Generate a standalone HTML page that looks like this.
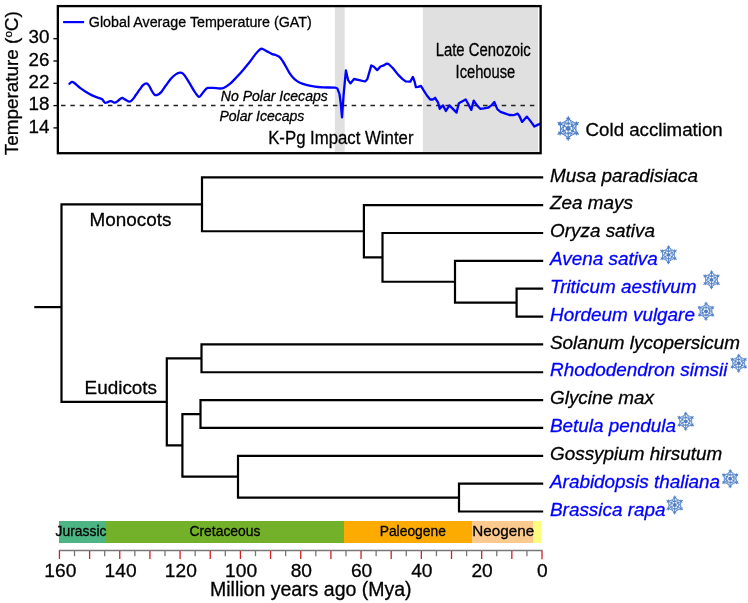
<!DOCTYPE html>
<html><head><meta charset="utf-8"><style>
html,body{margin:0;padding:0;background:#fff;width:748px;height:603px;overflow:hidden}
svg{display:block;will-change:transform}
text{font-family:"Liberation Sans", sans-serif;fill:#000;stroke:#000;stroke-width:0.3px}
</style></head><body>
<svg width="748" height="603" viewBox="0 0 748 603">
<defs><symbol id="sf" viewBox="-12 -12.5 24 25"><g stroke="#4a7cc4" fill="none" stroke-linecap="round" stroke-linejoin="round"><path d="M0.00 -3.00 L0.00 -11.40 M0.00 -9.00 l-1.56 -0.90 M0.00 -9.00 l1.56 -0.90 M-2.60 -1.50 L-9.87 -5.70 M-7.79 -4.50 l-1.56 0.90 M-7.79 -4.50 l0.00 -1.80 M-2.60 1.50 L-9.87 5.70 M-7.79 4.50 l-0.00 1.80 M-7.79 4.50 l-1.56 -0.90 M-0.00 3.00 L-0.00 11.40 M-0.00 9.00 l1.56 0.90 M-0.00 9.00 l-1.56 0.90 M2.60 1.50 L9.87 5.70 M7.79 4.50 l1.56 -0.90 M7.79 4.50 l-0.00 1.80 M2.60 -1.50 L9.87 -5.70 M7.79 -4.50 l0.00 -1.80 M7.79 -4.50 l1.56 0.90" stroke-width="1.05"/><polygon points="0.00 -10.40 -9.01 5.20 9.01 5.20" stroke-width="0.8"/><polygon points="-0.00 10.40 9.01 -5.20 -9.01 -5.20" stroke-width="0.8"/><polygon points="0.00 -8.60 -7.45 -4.30 -7.45 4.30 -0.00 8.60 7.45 4.30 7.45 -4.30" stroke-width="0.9"/><circle r="4.6" stroke-width="1.3" stroke-dasharray="0.85 1.56"/></g><circle r="2.4" fill="#4a7cc4"/></symbol></defs>
<rect x="334.9" y="7.2" width="9.8" height="144.6" fill="#e0e0e0"/>
<rect x="422.9" y="7.2" width="115.2" height="144.6" fill="#e0e0e0"/>
<line x1="61" y1="105.5" x2="539" y2="105.5" stroke="#222" stroke-width="1.6" stroke-dasharray="4.5 4.877"/>
<path d="M69.5 83.7 C69.9 83.4 71.2 81.9 72.0 81.8 C72.8 81.7 73.1 82.0 74.4 83.0 C75.7 84.0 78.1 86.3 80.0 87.8 C81.9 89.3 83.7 90.5 85.7 91.8 C87.7 93.1 90.1 94.4 92.1 95.4 C94.1 96.4 96.1 97.0 97.7 97.6 C99.3 98.2 100.8 98.6 101.7 99.1 C102.6 99.6 102.8 100.1 103.3 100.7 C103.8 101.3 104.2 102.4 104.9 102.7 C105.6 103.0 106.4 102.6 107.3 102.3 C108.2 102.0 109.3 101.2 110.1 101.1 C110.9 101.0 111.3 101.2 112.1 101.5 C112.9 101.8 114.0 102.8 114.9 102.7 C115.8 102.6 116.7 101.8 117.7 101.1 C118.7 100.4 120.1 98.9 120.9 98.4 C121.7 97.9 121.7 97.7 122.4 97.9 C123.1 98.1 124.1 99.0 125.3 99.6 C126.5 100.2 128.3 101.8 129.6 101.7 C130.8 101.7 131.7 100.5 132.8 99.3 C133.9 98.1 134.8 96.4 136.0 94.8 C137.2 93.2 138.6 91.0 139.8 89.4 C141.0 87.8 141.9 86.2 143.0 85.2 C144.1 84.2 145.2 83.4 146.2 83.4 C147.2 83.4 148.0 84.2 148.9 85.4 C149.8 86.6 150.7 89.0 151.6 90.5 C152.5 92.0 153.3 93.5 154.2 94.3 C155.1 95.1 155.7 95.5 156.9 95.1 C158.1 94.7 159.7 93.7 161.2 92.1 C162.7 90.5 164.4 87.5 166.0 85.3 C167.6 83.1 169.3 80.6 170.9 78.8 C172.5 77.0 174.2 75.4 175.7 74.4 C177.2 73.4 178.9 72.8 180.1 72.7 C181.3 72.6 181.9 72.8 182.9 73.6 C183.9 74.4 184.9 75.8 186.1 77.6 C187.3 79.3 188.6 81.7 190.1 84.1 C191.6 86.5 193.4 90.0 194.9 92.1 C196.4 94.2 197.7 96.6 198.9 96.9 C200.1 97.2 200.9 95.0 202.1 93.7 C203.3 92.4 205.1 89.9 206.1 88.9 C207.1 87.9 207.1 88.1 208.3 87.9 C209.5 87.7 211.4 87.8 213.3 87.9 C215.2 88.0 218.1 88.5 219.9 88.5 C221.7 88.5 222.4 88.5 224.1 87.7 C225.8 86.9 227.8 85.6 229.9 83.9 C232.0 82.2 234.3 79.6 236.5 77.3 C238.7 75.0 240.9 72.5 243.1 69.9 C245.3 67.4 247.6 64.6 249.7 62.0 C251.8 59.4 253.8 56.2 255.5 54.1 C257.2 52.0 258.6 50.5 259.7 49.6 C260.8 48.7 261.2 48.5 262.4 48.8 C263.6 49.1 265.6 50.5 267.1 51.4 C268.7 52.2 270.2 53.2 271.7 53.9 C273.2 54.5 274.9 54.8 276.2 55.3 C277.5 55.8 278.3 55.9 279.4 56.9 C280.5 57.9 281.5 59.3 282.6 61.0 C283.8 62.7 285.1 65.2 286.3 67.3 C287.5 69.4 288.5 71.7 289.9 73.7 C291.3 75.7 292.8 77.7 294.5 79.2 C296.2 80.7 297.8 81.8 299.9 82.8 C302.0 83.8 304.7 84.5 307.2 85.1 C309.7 85.7 312.5 86.2 315.0 86.6 C317.5 87.0 319.1 87.1 322.4 87.3 C325.7 87.5 332.4 87.5 334.9 87.7 C337.4 87.9 337.0 88.5 337.4 88.7 L339.5 94.1 L340.7 103.2 L342.0 117.3 L343.6 94.9 L345.9 70.5 L348.1 80.1 L350.4 83.4 L354.0 79.0 L359.2 80.1 L365.1 81.5 L367.3 79.3 L371.3 65.4 L373.9 66.8 L377.2 70.1 L380.5 66.5 L383.1 65.7 L386.4 63.7 L388.6 64.0 L393.0 68.3 L398.0 74.6 L402.3 78.9 L405.6 81.4 L410.3 81.6 L412.9 76.9 L414.6 81.6 L415.9 87.2 L418.2 86.9 L420.9 85.9 L423.5 90.2 L426.9 95.5 L430.2 99.5 L432.8 99.5 L435.1 97.8 L438.1 102.7 L439.7 108.8 L443.0 105.4 L445.9 111.0 L449.4 105.4 L456.6 112.6 L458.7 103.5 L461.1 101.9 L465.7 99.5 L468.1 103.8 L471.3 109.9 L473.7 100.6 L477.0 105.4 L480.2 108.8 L483.9 108.3 L488.4 107.5 L491.4 105.4 L494.3 101.9 L495.7 105.4 L497.3 109.1 L500.5 111.8 L504.8 113.4 L509.3 115.0 L513.6 115.2 L517.6 113.6 L519.4 116.0 L522.1 121.9 L526.9 116.6 L530.7 121.4 L534.4 126.5 L537.6 124.9 L540.0 123.8" fill="none" stroke="#0000ff" stroke-width="2.3" stroke-linejoin="round" stroke-linecap="round"/>
<rect x="57.85" y="6.1" width="482.8" height="47.0" fill="none"/>
<rect x="57.85" y="6.1" width="482.8" height="147.1" fill="none" stroke="#000" stroke-width="2.3"/>
<line x1="53.4" y1="38.70" x2="57" y2="38.70" stroke="#000" stroke-width="1.3"/>
<text x="49.4" y="43.30" font-size="18.8" text-anchor="end">30</text>
<line x1="53.4" y1="61.00" x2="57" y2="61.00" stroke="#000" stroke-width="1.3"/>
<text x="49.4" y="65.60" font-size="18.8" text-anchor="end">26</text>
<line x1="53.4" y1="83.30" x2="57" y2="83.30" stroke="#000" stroke-width="1.3"/>
<text x="49.4" y="87.90" font-size="18.8" text-anchor="end">22</text>
<line x1="53.4" y1="105.60" x2="57" y2="105.60" stroke="#000" stroke-width="1.3"/>
<text x="49.4" y="110.20" font-size="18.8" text-anchor="end">18</text>
<line x1="53.4" y1="127.90" x2="57" y2="127.90" stroke="#000" stroke-width="1.3"/>
<text x="49.4" y="132.50" font-size="18.8" text-anchor="end">14</text>
<text transform="translate(18.4,155.2) rotate(-90)" font-size="18.7" textLength="144" lengthAdjust="spacingAndGlyphs">Temperature (<tspan font-size="11.5" dy="-6">o</tspan><tspan dy="6">C)</tspan></text>
<line x1="63.1" y1="22.1" x2="84.1" y2="22.1" stroke="#0000ff" stroke-width="2.2"/>
<text x="88.8" y="27.4" font-size="15.3" textLength="223" lengthAdjust="spacingAndGlyphs">Global Average Temperature (GAT)</text>
<text x="220.8" y="100.8" font-size="14.5" font-style="italic" textLength="107" lengthAdjust="spacingAndGlyphs">No Polar Icecaps</text>
<text x="219.4" y="120.9" font-size="14.5" font-style="italic" textLength="85" lengthAdjust="spacingAndGlyphs">Polar Icecaps</text>
<text x="268.2" y="143.9" font-size="18.7" textLength="145.3" lengthAdjust="spacingAndGlyphs">K-Pg Impact Winter</text>
<text x="435.7" y="55.6" font-size="18" textLength="95" lengthAdjust="spacingAndGlyphs">Late Cenozoic</text>
<text x="455.6" y="77.7" font-size="18" textLength="59.6" lengthAdjust="spacingAndGlyphs">Icehouse</text>
<use href="#sf" x="555.7" y="115.4" width="25" height="26"/>
<text x="585.6" y="135.6" font-size="18.7">Cold acclimation</text>
<g fill="none" stroke="#000" stroke-width="2.2" stroke-linecap="butt" stroke-linejoin="miter"><path d="M543.20 288.70 H516.60 V316.55 H543.20"/><path d="M543.20 260.85 H455.00 V302.62 H516.60"/><path d="M543.20 233.00 H382.50 V281.74 H455.00"/><path d="M543.20 205.15 H363.90 V257.37 H382.50"/><path d="M543.20 177.30 H202.00 V231.26 H363.90"/><path d="M543.20 483.65 H459.00 V511.50 H543.20"/><path d="M543.20 455.80 H238.00 V497.58 H459.00"/><path d="M543.20 400.10 H200.50 V427.95 H543.20"/><path d="M200.50 414.03 H182.40 V476.69 H238.00"/><path d="M543.20 344.40 H201.50 V372.25 H543.20"/><path d="M201.50 358.33 H166.80 V445.36 H182.40"/><path d="M202.00 204.28 H61.50 V401.84 H166.80"/><path d="M34.3 307.1 H61.50"/></g>
<text x="89.6" y="225.9" font-size="18.9">Monocots</text>
<text x="84.6" y="393.7" font-size="18.9">Eudicots</text>
<text x="550.0" y="181.50" font-size="18.9" font-style="italic" fill="#000">Musa paradisiaca</text>
<text x="550.0" y="209.35" font-size="18.9" font-style="italic" fill="#000">Zea mays</text>
<text x="550.0" y="237.20" font-size="18.9" font-style="italic" fill="#000">Oryza sativa</text>
<text x="550.0" y="265.05" font-size="18.9" font-style="italic" style="fill:#0000ff;stroke:#0000ff">Avena sativa</text>
<use href="#sf" x="658.90" y="244.80" width="19.20" height="20.00"/>
<text x="550.0" y="292.90" font-size="18.9" font-style="italic" style="fill:#0000ff;stroke:#0000ff">Triticum aestivum</text>
<use href="#sf" x="701.90" y="269.80" width="19.20" height="20.00"/>
<text x="550.0" y="320.75" font-size="18.9" font-style="italic" style="fill:#0000ff;stroke:#0000ff">Hordeum vulgare</text>
<use href="#sf" x="696.40" y="301.30" width="19.20" height="20.00"/>
<text x="550.0" y="348.60" font-size="18.9" font-style="italic" fill="#000">Solanum lycopersicum</text>
<text x="550.0" y="376.45" font-size="18.9" font-style="italic" style="fill:#0000ff;stroke:#0000ff">Rhododendron simsii</text>
<use href="#sf" x="729.10" y="353.20" width="19.20" height="20.00"/>
<text x="550.0" y="404.30" font-size="18.9" font-style="italic" fill="#000">Glycine max</text>
<text x="550.0" y="432.15" font-size="18.9" font-style="italic" style="fill:#0000ff;stroke:#0000ff">Betula pendula</text>
<use href="#sf" x="676.10" y="411.30" width="19.20" height="20.00"/>
<text x="550.0" y="460.00" font-size="18.9" font-style="italic" fill="#000">Gossypium hirsutum</text>
<text x="550.0" y="487.85" font-size="18.9" font-style="italic" style="fill:#0000ff;stroke:#0000ff">Arabidopsis thaliana</text>
<use href="#sf" x="720.60" y="468.70" width="19.20" height="20.00"/>
<text x="550.0" y="515.70" font-size="18.9" font-style="italic" style="fill:#0000ff;stroke:#0000ff">Brassica rapa</text>
<use href="#sf" x="665.10" y="495.00" width="19.20" height="20.00"/>
<rect x="59.20" y="520.9" width="45.90" height="21.7" fill="#4db583" shape-rendering="crispEdges"/>
<rect x="105.10" y="520.9" width="238.90" height="21.7" fill="#74b12a" shape-rendering="crispEdges"/>
<rect x="344.00" y="520.9" width="128.00" height="21.7" fill="#fdab00" shape-rendering="crispEdges"/>
<rect x="472.00" y="520.9" width="61.00" height="21.7" fill="#fcca8e" shape-rendering="crispEdges"/>
<rect x="533.00" y="520.9" width="8.00" height="21.7" fill="#fefc7f" shape-rendering="crispEdges"/>
<text x="55.6" y="536.3" font-size="15.0" textLength="50.9" lengthAdjust="spacingAndGlyphs">Jurassic</text>
<text x="189.4" y="536.3" font-size="15.0" textLength="71.1" lengthAdjust="spacingAndGlyphs">Cretaceous</text>
<text x="379.7" y="536.3" font-size="15.0" textLength="66.2" lengthAdjust="spacingAndGlyphs">Paleogene</text>
<text x="472.3" y="536.1" font-size="15.0" textLength="61.8" lengthAdjust="spacingAndGlyphs">Neogene</text>
<line x1="58.74" y1="550.5" x2="542.7" y2="550.5" stroke="#777" stroke-width="1.3"/>
<line x1="542.00" y1="551" x2="542.00" y2="559.3" stroke="#d81e25" stroke-width="1.3"/>
<line x1="526.92" y1="551" x2="526.92" y2="556.2" stroke="#777" stroke-width="1.3"/>
<line x1="511.84" y1="551" x2="511.84" y2="559.0" stroke="#d81e25" stroke-width="1.3"/>
<line x1="496.76" y1="551" x2="496.76" y2="556.2" stroke="#777" stroke-width="1.3"/>
<line x1="481.68" y1="551" x2="481.68" y2="559.0" stroke="#d81e25" stroke-width="1.3"/>
<line x1="466.60" y1="551" x2="466.60" y2="556.2" stroke="#777" stroke-width="1.3"/>
<line x1="451.52" y1="551" x2="451.52" y2="559.0" stroke="#d81e25" stroke-width="1.3"/>
<line x1="436.44" y1="551" x2="436.44" y2="556.2" stroke="#777" stroke-width="1.3"/>
<line x1="421.36" y1="551" x2="421.36" y2="559.0" stroke="#d81e25" stroke-width="1.3"/>
<line x1="406.28" y1="551" x2="406.28" y2="556.2" stroke="#777" stroke-width="1.3"/>
<line x1="391.20" y1="551" x2="391.20" y2="559.0" stroke="#d81e25" stroke-width="1.3"/>
<line x1="376.12" y1="551" x2="376.12" y2="556.2" stroke="#777" stroke-width="1.3"/>
<line x1="361.04" y1="551" x2="361.04" y2="559.0" stroke="#d81e25" stroke-width="1.3"/>
<line x1="345.96" y1="551" x2="345.96" y2="556.2" stroke="#777" stroke-width="1.3"/>
<line x1="330.88" y1="551" x2="330.88" y2="559.0" stroke="#d81e25" stroke-width="1.3"/>
<line x1="315.80" y1="551" x2="315.80" y2="556.2" stroke="#777" stroke-width="1.3"/>
<line x1="300.72" y1="551" x2="300.72" y2="559.0" stroke="#d81e25" stroke-width="1.3"/>
<line x1="285.64" y1="551" x2="285.64" y2="556.2" stroke="#777" stroke-width="1.3"/>
<line x1="270.56" y1="551" x2="270.56" y2="559.0" stroke="#d81e25" stroke-width="1.3"/>
<line x1="255.48" y1="551" x2="255.48" y2="556.2" stroke="#777" stroke-width="1.3"/>
<line x1="240.40" y1="551" x2="240.40" y2="559.0" stroke="#d81e25" stroke-width="1.3"/>
<line x1="225.32" y1="551" x2="225.32" y2="556.2" stroke="#777" stroke-width="1.3"/>
<line x1="210.24" y1="551" x2="210.24" y2="559.0" stroke="#d81e25" stroke-width="1.3"/>
<line x1="195.16" y1="551" x2="195.16" y2="556.2" stroke="#777" stroke-width="1.3"/>
<line x1="180.08" y1="551" x2="180.08" y2="559.0" stroke="#d81e25" stroke-width="1.3"/>
<line x1="165.00" y1="551" x2="165.00" y2="556.2" stroke="#777" stroke-width="1.3"/>
<line x1="149.92" y1="551" x2="149.92" y2="559.0" stroke="#d81e25" stroke-width="1.3"/>
<line x1="134.84" y1="551" x2="134.84" y2="556.2" stroke="#777" stroke-width="1.3"/>
<line x1="119.76" y1="551" x2="119.76" y2="559.0" stroke="#d81e25" stroke-width="1.3"/>
<line x1="104.68" y1="551" x2="104.68" y2="556.2" stroke="#777" stroke-width="1.3"/>
<line x1="89.60" y1="551" x2="89.60" y2="559.0" stroke="#d81e25" stroke-width="1.3"/>
<line x1="74.52" y1="551" x2="74.52" y2="556.2" stroke="#777" stroke-width="1.3"/>
<line x1="59.44" y1="551" x2="59.44" y2="559.0" stroke="#d81e25" stroke-width="1.3"/>
<text x="542.30" y="576.8" font-size="19.2" text-anchor="middle">0</text>
<text x="482.06" y="576.8" font-size="19.2" text-anchor="middle">20</text>
<text x="421.82" y="576.8" font-size="19.2" text-anchor="middle">40</text>
<text x="361.58" y="576.8" font-size="19.2" text-anchor="middle">60</text>
<text x="301.34" y="576.8" font-size="19.2" text-anchor="middle">80</text>
<text x="241.10" y="576.8" font-size="19.2" text-anchor="middle">100</text>
<text x="180.86" y="576.8" font-size="19.2" text-anchor="middle">120</text>
<text x="120.62" y="576.8" font-size="19.2" text-anchor="middle">140</text>
<text x="60.38" y="576.8" font-size="19.2" text-anchor="middle">160</text>
<text x="210.0" y="596.4" font-size="19.5">Million years ago (Mya)</text>
</svg>
</body></html>
